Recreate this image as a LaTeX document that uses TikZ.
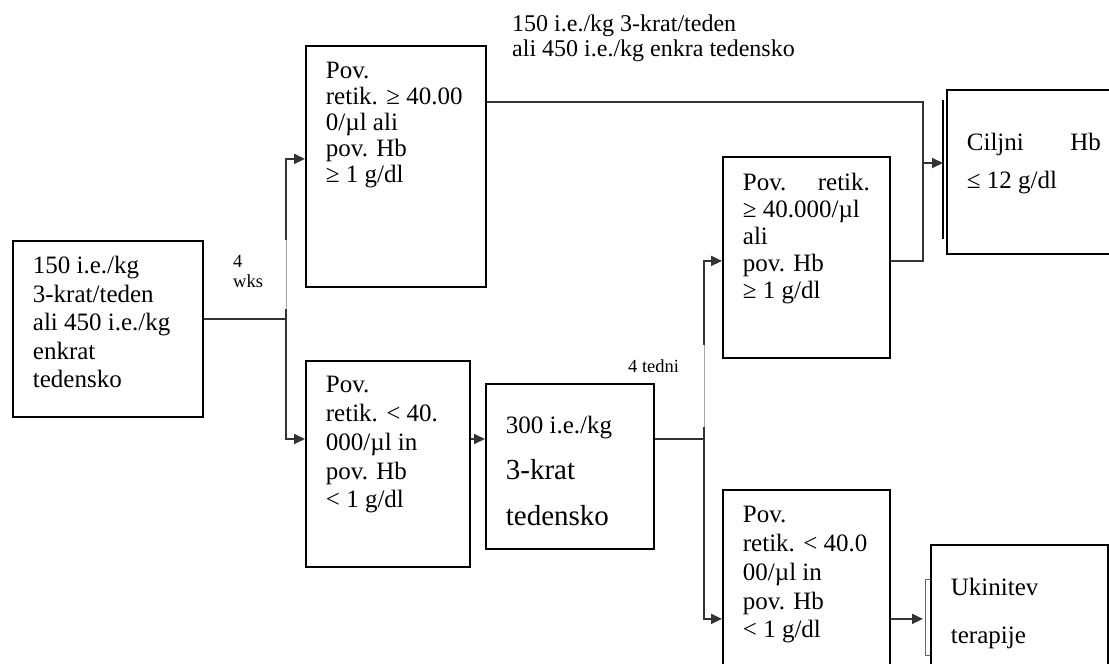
\documentclass[tikz,border=0pt]{standalone}
\usepackage{fontspec}
\setmainfont{Liberation Serif}
\usetikzlibrary{arrows.meta}

% box text: width, height, first baseline, line skip, text
\newcommand{\boxtxt}[5]{\parbox[t][#2pt][t]{#1pt}{\fontsize{25}{#4}\selectfont\rule{0pt}{#3pt}#5}}

\begin{document}
\begin{tikzpicture}
  [x=1pt,y=-1pt,
   stepbox/.style={draw=black,line width=1.8pt,anchor=north west,inner xsep=20pt,inner ysep=0pt},
   note/.style={anchor=base west,inner sep=0pt,align=left},
   link/.style={draw=black!80,line width=1.8pt},
   flow/.style={link,-{Triangle[length=11pt,width=10pt]}},
   faint/.style={draw=black!35,line width=0.7pt}]
  \useasboundingbox (0,0) rectangle (1109,664);
  \clip (0,0) rectangle (1109,664);

  \node[stepbox] (start) at (12,240) {\boxtxt{150}{176}{33}{28.5}{150 i.e./kg\\3-krat/teden\\ali 450 i.e./kg\\enkrat\\tedensko}};
  \node[stepbox] (good1) at (305,45) {\boxtxt{140}{241}{33}{26}{Pov.\\retik. ≥ 40.00\\0/µl ali\\pov. Hb\\≥ 1 g/dl}};
  \node[stepbox] (poor1) at (305,360) {\boxtxt{124}{206}{32}{28.7}{Pov.\\retik. < 40.\\000/µl in\\pov. Hb\\< 1 g/dl}};
  \node[stepbox] (dose) at (485,383) {\boxtxt{128}{165}{50}{46}{300 i.e./kg\\\fontsize{29}{46}\selectfont 3-krat\\tedensko}};
  \node[stepbox] (good2) at (722,156) {\boxtxt{127}{201}{34}{27}{Pov.\hfill retik.\\≥ 40.000/µl\\ali\\pov. Hb\\≥ 1 g/dl}};
  \node[stepbox] (target) at (946,89) {\boxtxt{134}{164}{61}{38}{Ciljni\hfill Hb\\≤ 12 g/dl}};
  \node[stepbox] (poor2) at (722,489) {\boxtxt{127}{185}{33}{28.7}{Pov.\\retik. < 40.0\\00/µl in\\pov. Hb\\< 1 g/dl}};
  \node[stepbox] (stop) at (930,544) {\boxtxt{137}{130}{51}{48}{Ukinitev\\terapije}};

  \node[note,font=\fontsize{24}{25}\selectfont] (regimen) at (512,56) {150 i.e./kg 3-krat/teden\\ali 450 i.e./kg enkra tedensko};
  \node[note,font=\fontsize{18.5}{20}\selectfont] (wait1) at (233,287) {4\\wks};
  \node[note,font=\fontsize{18.5}{20}\selectfont] (wait2) at (628,372) {4 tedni};

  % first split
  \coordinate (fork1) at (286,319);
  \coordinate (gap1a) at (286,240);
  \coordinate (gap1b) at (286,309);
  \draw[link] (start.east |- fork1) -- (fork1);
  \draw[link] (fork1) -- (gap1b);
  \draw[faint] (gap1b) -- (gap1a);
  \draw[flow] (gap1a) |- ([yshift=7.5pt]good1.west);

  % second split
  \coordinate (fork2) at (704,439);
  \coordinate (gap2a) at (704,345);
  \coordinate (gap2b) at (704,427);
  \draw[flow] (fork1) |- (poor1.west |- fork2);
  \draw[flow] (poor1.east |- fork2) -- (dose.west |- fork2);
  \draw[link] (dose.east |- fork2) -- (fork2);
  \draw[link] (fork2) -- (gap2b);
  \draw[faint] (gap2b) -- (gap2a);
  \draw[flow] (gap2a) |- ([yshift=-3.5pt]good2.west);
  \draw[flow] (fork2) |- ([yshift=-36.5pt]poor2.west);

  % to target and stop
  \coordinate (join) at (923,163);
  \coordinate (out1) at ([yshift=64.5pt]good1.east);
  \coordinate (out2) at ([yshift=-3.5pt]good2.east);
  \coordinate (out3) at ([yshift=-36.5pt]poor2.east);
  \draw[link] (out1) -| (join);
  \draw[link] (out2) -| (join);
  \draw[flow,shorten >=3pt] (join) -- (join -| target.west);
  \draw[flow,shorten >=7pt] (out3) -- (out3 -| stop.west);

  \draw[line width=1.8pt] ([shift={(-3pt,-11pt)}]target.north west) -- ([shift={(-3pt,16pt)}]target.south west);
  \draw[black!60,line width=0.8pt] ([yshift=-35pt]stop.north west) -- ++(-5pt,0) -- ++(0,-76pt) -- ++(5pt,0);
\end{tikzpicture}
\end{document}
